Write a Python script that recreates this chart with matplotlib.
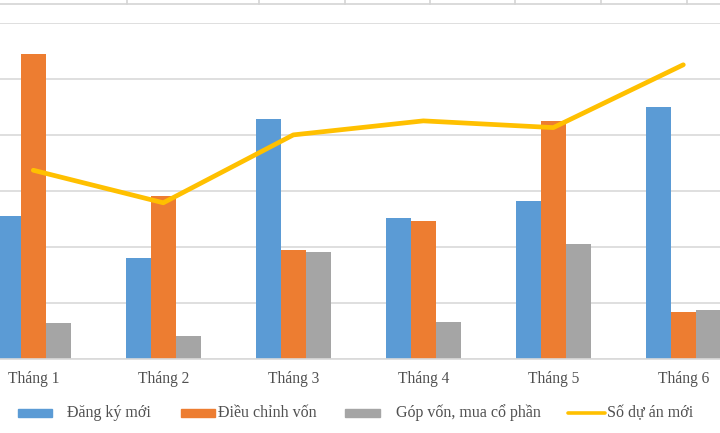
import matplotlib
matplotlib.use("Agg")
import matplotlib.pyplot as plt
from matplotlib.patches import Rectangle
from matplotlib.lines import Line2D
from matplotlib.transforms import blended_transform_factory
import numpy as np

categories = ["Tháng 1", "Tháng 2", "Tháng 3", "Tháng 4", "Tháng 5", "Tháng 6"]
dang_ky_moi = [256, 181, 428, 251, 283, 449]
dieu_chinh_von = [544, 291, 194, 247, 424, 84]
gop_von = [65, 42, 192, 66, 206, 87]
so_du_an_moi = [337, 279, 400, 425, 413, 525]
series_names = ["Đăng ký mới", "Điều chỉnh vốn", "Góp vốn, mua cổ phần", "Số dự án mới"]

BLUE = "#5B9BD5"
ORANGE = "#ED7D31"
GRAY = "#A5A5A5"
YELLOW = "#FFC000"
GRID = "#D9D9D9"
TEXT = "#505050"
FONT = "Liberation Serif"

W, H = 720, 433
fig = plt.figure(figsize=(W / 100, H / 100), dpi=100)
fig.patch.set_facecolor("white")

def fx(px):
    return px / W

def fy(py):
    return 1 - py / H

# axes: baseline at y=359.3 px, top gridline at 22.7 px, spans full width
ax = fig.add_axes([0, fy(359.3), 1, fy(22.7) - fy(359.3)])
ax.set_facecolor("white")
x = np.arange(len(categories))
bw = 0.1915
ax.bar(x - bw, dang_ky_moi, bw, color=BLUE, zorder=2)
ax.bar(x, dieu_chinh_von, bw, color=ORANGE, zorder=2)
ax.bar(x + bw, gop_von, bw, color=GRAY, zorder=2)
ax.plot(x, so_du_an_moi, color=YELLOW, lw=3.4, solid_capstyle="round",
        solid_joinstyle="round", zorder=3)

ax.set_xlim(-33.3 / 130, 5 + (720 - 683.3) / 130)
ax.set_ylim(0, 600)
ax.set_yticks(np.arange(0, 601, 100))
ax.yaxis.grid(True, color=GRID, lw=1.2, zorder=0)
ax.set_axisbelow(True)
for s in ["top", "left", "right"]:
    ax.spines[s].set_visible(False)
ax.spines["bottom"].set_color(GRID)
ax.spines["bottom"].set_linewidth(1.2)
ax.tick_params(axis="y", left=False, labelleft=False)
ax.set_xticks(x)
ax.tick_params(axis="x", length=0, labelbottom=False)

# category labels (data x, figure y)
trans = blended_transform_factory(ax.transData, fig.transFigure)
for xi, lab in zip(x, categories):
    ax.text(xi, fy(383.3), lab, transform=trans, ha="center", va="baseline",
            fontfamily=FONT, fontsize=11.2, color=TEXT, clip_on=False)

# spreadsheet cell borders at top
fig.add_artist(Line2D([0, 1], [fy(4), fy(4)], color="#D4D4D4", lw=1.2))
for vx in [127, 259, 345, 430, 515, 601, 687]:
    fig.add_artist(Line2D([fx(vx), fx(vx)], [fy(0), fy(4)], color="#D4D4D4", lw=1.2))

# legend drawn manually
ly = 413
items = [
    ("patch", BLUE, 18, 52, 67),
    ("patch", ORANGE, 181, 215, 218),
    ("patch", GRAY, 345, 380, 396),
    ("line", YELLOW, 568, 605, 607),
]
for (kind, col, x0, x1, tx), name in zip(items, series_names):
    if kind == "patch":
        fig.add_artist(Rectangle((fx(x0), fy(ly + 3.8)), fx(x1) - fx(x0), fy(ly - 3.8) - fy(ly + 3.8),
                                 color=col, transform=fig.transFigure))
    else:
        fig.add_artist(Line2D([fx(x0), fx(x1)], [fy(ly), fy(ly)], color=col, lw=2.6,
                              solid_capstyle="round"))
    fig.text(fx(tx), fy(417.3), name, fontfamily=FONT, fontsize=11.5,
             color=TEXT, va="baseline", ha="left")

fig.savefig("out.png", dpi=100)
